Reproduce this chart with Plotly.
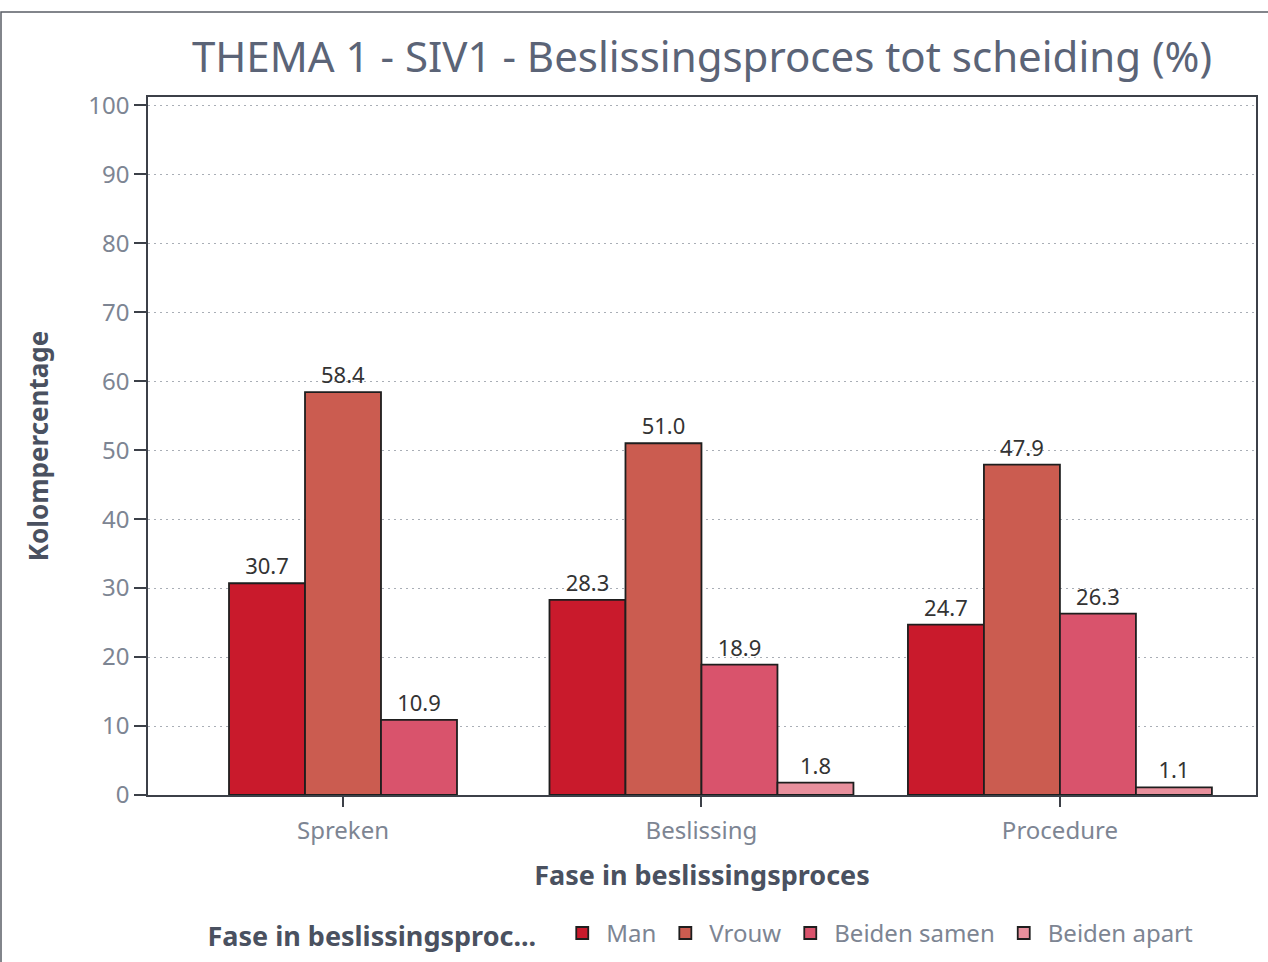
import plotly.graph_objects as go

categories = ["Spreken", "Beslissing", "Procedure"]
series_names = ["Man", "Vrouw", "Beiden samen", "Beiden apart"]
man = [30.7, 28.3, 24.7]
vrouw = [58.4, 51.0, 47.9]
beiden_samen = [10.9, 18.9, 26.3]
beiden_apart = [None, 1.8, 1.1]
colors = ["#c91a2c", "#cb5c50", "#d9536c", "#e8909d"]

values = [man, vrouw, beiden_samen, beiden_apart]
bar_w = 0.212

fig = go.Figure()
for s, (name, vals, col) in enumerate(zip(series_names, values, colors)):
    offsets = []
    for c in range(len(categories)):
        present = [k for k in range(len(values)) if values[k][c] is not None]
        n = len(present)
        i = present.index(s) if s in present else 0
        offsets.append((-n / 2 + i) * bar_w)
    fig.add_trace(go.Bar(
        name=name, x=categories, y=vals,
        offset=offsets, width=[bar_w] * len(categories),
        marker=dict(color=col, line=dict(color="#1e1e1e", width=1.8)),
        texttemplate="%{y:.1f}", textposition="outside",
        textfont=dict(size=22, color="#333333"),
        cliponaxis=False,
    ))

fig.update_layout(
    width=1268, height=962,
    margin=dict(l=148, r=12, t=97, b=167, autoexpand=False),
    plot_bgcolor="white", paper_bgcolor="white",
    font=dict(family="Noto Sans", color="#7d8593"),
    barmode="overlay",
    title=dict(text="THEMA 1 - SIV1 - Beslissingsproces tot scheiding (%)",
               x=0.5, xref="paper", xanchor="center",
               y=1 - 57 / 962, yanchor="middle",
               font=dict(size=42, color="#5b6477")),
    showlegend=True,
    legend=dict(orientation="h", x=0.5, xanchor="center", y=-0.199, yanchor="middle",
                title=dict(text="<b>Fase in beslissingsproc...&nbsp;&nbsp;</b>",
                           font=dict(size=27, color="#4a5160")),
                font=dict(size=24, color="#7d8593"), itemwidth=38),
)
fig.update_xaxes(
    range=[-0.544, 2.547], showline=True, linecolor="#3c4048", linewidth=1.5, mirror=True,
    ticks="outside", ticklen=10, tickcolor="#3c4048", tickwidth=1.5, ticklabelstandoff=3,
    tickfont=dict(size=24, color="#7d8593"),
    title=dict(text="<b>Fase in beslissingsproces</b>", font=dict(size=27, color="#4a5160"), standoff=22),
    showgrid=False, automargin=False,
)
fig.update_yaxes(
    range=[0, 101.2], tickvals=list(range(0, 101, 10)),
    showline=True, linecolor="#3c4048", linewidth=1.5, mirror=True,
    ticks="outside", ticklen=12, tickcolor="#3c4048", tickwidth=1.5,
    tickfont=dict(size=24, color="#7d8593"),
    showgrid=True, gridcolor="#a9aeb6", griddash="2px,4px", gridwidth=1.3,
    zeroline=False, automargin=False,
    title=dict(text="<b>Kolompercentage</b>", font=dict(size=26, color="#4a5160"), standoff=32),
)
fig.add_shape(type="rect", xref="paper", yref="paper",
              x0=(1 - 148) / 1108, x1=1.2, y0=-0.4, y1=(795 - 12) / 698,
              line=dict(color="#5a5e66", width=1.5), fillcolor="rgba(0,0,0,0)", layer="above")

fig.write_html("out.html", config={"displayModeBar": False},
               post_script="document.body.style.margin='0';")
